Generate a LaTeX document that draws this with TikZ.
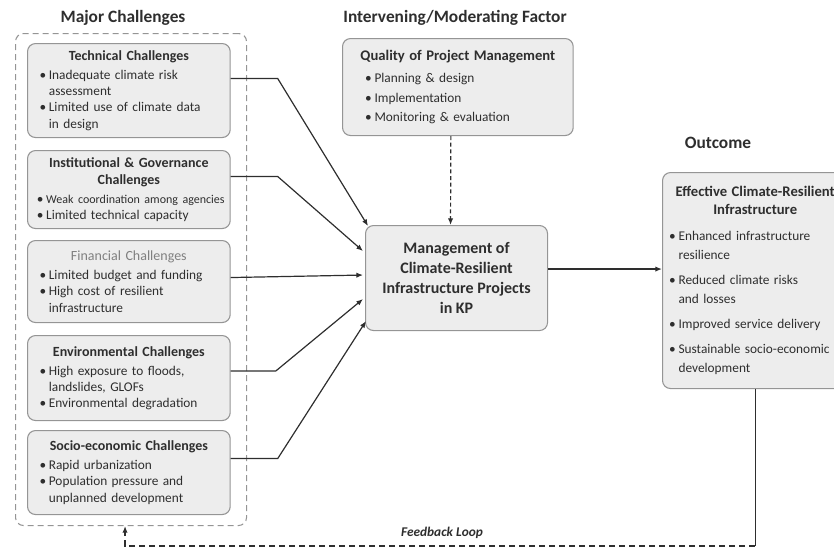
\documentclass[tikz,border=0pt]{standalone}
\usepackage{fontspec}
\setmainfont{Carlito}
\usetikzlibrary{arrows.meta,calc}

\definecolor{boxfill}{HTML}{EDEDED}
\definecolor{boxline}{HTML}{959595}
\definecolor{inkgray}{HTML}{2E2E2E}

% box heading and bullet lines
\newcommand{\bhead}[1]{{\centering\fontsize{10.5}{13}\selectfont\bfseries #1\par}\vspace{2pt}}
\newcommand{\bheadlight}[1]{{\centering\fontsize{10.5}{13}\selectfont\color{gray} #1\par}\vspace{2pt}}
\newcommand{\bpt}[1]{\par\hangindent=7pt\hangafter=1\noindent\makebox[7pt][l]{\textbullet}#1\par}

\begin{document}
\begin{tikzpicture}[x=0.75pt,y=-0.75pt,
    every node/.style={text=inkgray},
    basebox/.style={draw=boxline, fill=boxfill, rounded corners=6pt, line width=0.8pt,
        anchor=north west},
    cbox/.style={basebox, inner xsep=3pt, inner ysep=2pt,
        execute at begin node={\parindent=0pt\raggedright},
        font=\fontsize{10}{12.2}\selectfont},
    corebox/.style={basebox, align=center, font=\fontsize{12}{15}\selectfont\bfseries},
    conn/.style={draw=inkgray, line width=0.9pt, -{Latex[length=5pt,width=4pt]}},
    hdr/.style={font=\fontsize{13}{15}\selectfont\bfseries}]
    \useasboundingbox (0,0) rectangle (834,551);

    % column headings
    \node[hdr] (hmajor) at (123,18) {Major Challenges};
    \node[hdr] (hinter) at (455,18) {Intervening/Moderating Factor};
    \node[hdr] (hout) at (718,143) {Outcome};

    % challenges group
    \node[draw=boxline, dashed, dash pattern=on 4.5pt off 3pt, rounded corners=6pt,
        line width=0.8pt, anchor=north west, minimum width=173.25pt,
        minimum height=369pt] (group) at (15,33) {};

    \node[cbox, minimum height=70.5pt, text width=146pt] (tech) at (27,43)
        {\bhead{Technical Challenges}{\leftskip=6pt\bpt{Inadequate climate risk\newline assessment}\bpt{Limited use of climate data\newline in design}}};
    \node[cbox, minimum height=58.5pt, text width=146pt] (inst) at (27,150)
        {\bhead{Institutional \& Governance\\Challenges}{\leftskip=4pt\bpt{\mbox{\fontsize{9}{12}\selectfont Weak coordination among agencies}}\bpt{Limited technical capacity}}};
    \node[cbox, minimum height=61.5pt, text width=146pt] (fin) at (27,240)
        {\bheadlight{Financial Challenges}{\leftskip=6pt\bpt{Limited budget and funding}\bpt{High cost of resilient\newline infrastructure}}};
    \node[cbox, minimum height=63.75pt, text width=146pt] (env) at (27,335)
        {\bhead{Environmental Challenges}{\leftskip=6pt\bpt{High exposure to floods,\newline landslides, GLOFs}\bpt{Environmental degradation}}};
    \node[cbox, minimum height=63pt, text width=146pt] (soc) at (27,430)
        {\bhead{Socio-economic Challenges}{\leftskip=6pt\bpt{Rapid urbanization}\bpt{Population pressure and\newline unplanned development}}};

    % moderating factor
    \node[cbox, minimum height=72.75pt, text width=163pt, inner xsep=5pt,
        font=\fontsize{10}{14.5}\selectfont] (quality) at (342,38)
        {{\centering\fontsize{11}{13}\selectfont\bfseries Quality of Project Management\par}\vspace{2pt}{\leftskip=12pt\bpt{Planning \& design}\bpt{Implementation}\bpt{Monitoring \& evaluation}}};

    % core
    \node[corebox, minimum width=136.5pt, minimum height=78.75pt] (central) at (365,225)
        {Management of\\Climate-Resilient\\Infrastructure Projects\\in KP};

    % outcome
    \node[cbox, minimum height=162pt, text width=129pt, inner xsep=5pt,
        font=\fontsize{10}{14.5}\selectfont] (outcome) at (662,172)
        {{\centering\fontsize{11}{13.5}\selectfont\bfseries Effective Climate-Resilient\\Infrastructure\par}\vspace{5pt}\bpt{Enhanced infrastructure\newline resilience}\vspace{4pt}\bpt{Reduced climate risks\newline and losses}\vspace{4pt}\bpt{Improved service delivery}\vspace{4pt}\bpt{Sustainable socio-economic\newline development}};

    % challenges into core
    \draw[conn] ($(tech.east)+(0,-12)$) -- ++(47,0) -- ($(central.north west)+(3,1)$);
    \draw[conn] ($(inst.east)+(0,-13)$) -- ++(47,0) -- ($(central.west)+(-2,-27)$);
    \draw[conn] ($(fin.east)+(0,-4)$) -- ($(central.west)+(-2,-3)$);
    \draw[conn] ($(env.east)+(0,-7)$) -- ++(45,0) -- ($(central.west)+(-2,21)$);
    \draw[conn] ($(soc.east)+(0,-14)$) -- ++(47,0) -- ($(central.south west)+(1,-10)$);

    % moderating link
    \draw[conn, dashed, dash pattern=on 3pt off 2pt] ($(quality.south)+(-7,0)$) -- ($(central.north)+(-6,0)$);

    % core to outcome
    \coordinate (outstart) at ($(central.east)+(0,-9)$);
    \draw[conn] (outstart) -- (outstart -| outcome.west);

    % feedback loop
    \coordinate (fbcorner) at ($(outcome.south)+(0,157)$);
    \draw[draw=inkgray, line width=0.9pt] (outcome.south) -- (fbcorner);
    \draw[conn, dashed, dash pattern=on 4.5pt off 3pt] (fbcorner) -| ($(group.south)+(-6,0)$);
    \node[font=\fontsize{10}{12}\selectfont\bfseries\itshape] (fblabel) at (442,533) {Feedback Loop};
\end{tikzpicture}
\end{document}
